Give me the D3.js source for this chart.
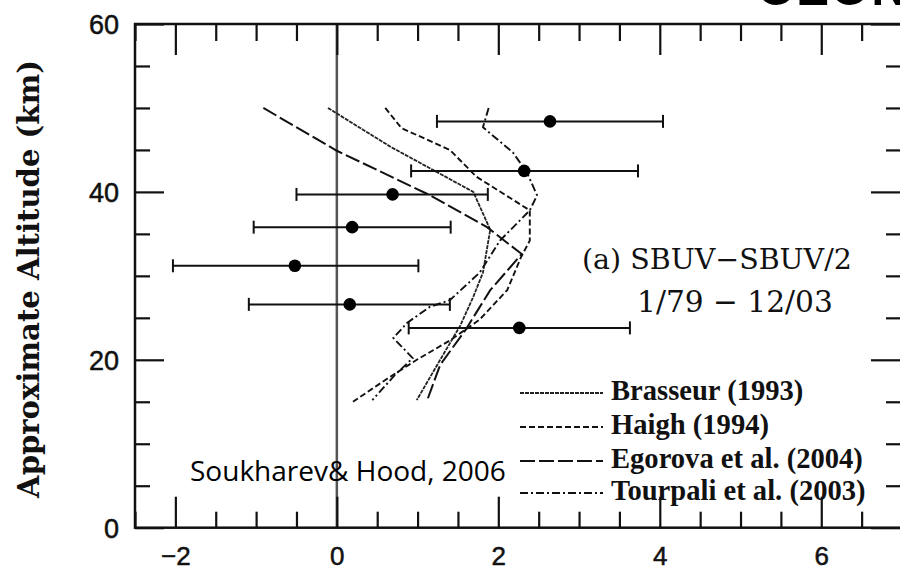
<!DOCTYPE html>
<html><head><meta charset="utf-8">
<script src="https://cdn.jsdelivr.net/npm/d3@7"></script>
<style>body{margin:0;background:#fff} svg{display:block}</style>
</head><body>
<svg id="c" width="900" height="570"></svg>
<script>
// ---------- data ----------
const xMajorTicks = [-2, 0, 2, 4, 6];
const yMajorTicks = [0, 20, 40, 60];
const xMinorTicks = d3.range(-2.5, 7.01, 0.5);
const yMinorTicks = d3.range(0, 60.01, 5);

const obsAlt = [48.4, 42.5, 39.7, 35.8, 31.2, 26.6, 23.8];
const obsVal = [2.64, 2.32, 0.69, 0.19, -0.52, 0.16, 2.26];
const obsLo  = [1.24, 0.92, -0.50, -1.03, -2.03, -1.09, 0.89];
const obsHi  = [4.04, 3.73, 1.87, 1.41, 1.01, 1.40, 3.63];

const brasseurAlt = [50.0, 45.4, 40.0, 35.5, 30.4, 27.5, 24.1, 20.0, 15.2];
const brasseurVal = [-0.11, 0.66, 1.69, 1.90, 1.81, 1.69, 1.53, 1.28, 0.99];

const haighAlt = [50.0, 47.6, 45.0, 41.8, 37.8, 34.2, 32.2, 28.3, 24.8, 22.3, 20.0, 17.6, 15.0];
const haighVal = [0.60, 0.80, 1.40, 1.73, 2.39, 2.39, 2.28, 2.11, 1.77, 1.40, 0.99, 0.60, 0.20];

const egorovaAlt = [50.0, 44.9, 39.6, 35.8, 32.6, 28.3, 23.5, 19.4, 15.2];
const egorovaVal = [-0.91, 0.00, 1.155, 1.86, 2.29, 1.90, 1.59, 1.28, 1.12];

const tourpaliAlt = [50.0, 47.7, 44.7, 42.4, 39.6, 37.8, 34.2, 30.4, 27.1, 26.3, 24.4, 22.6, 20.2, 18.2, 15.2];
const tourpaliVal = [1.88, 1.81, 2.18, 2.35, 2.48, 2.39, 2.02, 1.77, 1.40, 1.15, 0.87, 0.70, 0.94, 0.72, 0.44];

const legendLabels = ["Brasseur (1993)", "Haigh (1994)", "Egorova et al. (2004)", "Tourpali et al. (2003)"];

// ---------- layout ----------
const svg = d3.select("#c");
const L = 135, R = 902, T = 24, B = 527.7;
const x = d3.scaleLinear().domain([-2.5, 7]).range([L, R]);
const y = d3.scaleLinear().domain([0, 60]).range([B, T]);
const ink = "#111";

const models = [
  {alt: brasseurAlt, val: brasseurVal, dash: "4,1", w: 1.8, col: "#222"},
  {alt: haighAlt, val: haighVal, dash: "6,3", w: 1.9, col: "#111"},
  {alt: egorovaAlt, val: egorovaVal, dash: "15,4", w: 2, col: "#111"},
  {alt: tourpaliAlt, val: tourpaliVal, dash: "8,3,2,3", w: 1.9, col: "#111"}
];

// title fragment cut at top
svg.append("text").attr("x", 757).attr("y", 5)
  .attr("font-family", "Liberation Sans, Arial, sans-serif").attr("font-weight", "bold")
  .attr("font-size", 50).attr("letter-spacing", 2).attr("fill", "#000").text("OZONE");

// zero line
svg.append("line").attr("x1", x(0)).attr("x2", x(0)).attr("y1", T).attr("y2", B)
  .attr("stroke", "#555").attr("stroke-width", 2.5);

// axes (ticks)
const isMajorX = v => xMajorTicks.some(m => Math.abs(m - v) < 1e-6);
const isMajorY = v => yMajorTicks.some(m => Math.abs(m - v) < 1e-6);
const fmt = d => d < 0 ? "\u2212" + Math.abs(d) : String(d);

const gB = svg.append("g").attr("transform", `translate(0,${B})`)
  .call(d3.axisBottom(x).tickValues(xMinorTicks).tickSizeInner(0).tickSizeOuter(0).tickFormat(""));
gB.selectAll(".tick line").attr("y2", d => isMajorX(d) ? -31 : -16);
const gT = svg.append("g").attr("transform", `translate(0,${T})`)
  .call(d3.axisTop(x).tickValues(xMinorTicks).tickSizeInner(0).tickSizeOuter(0).tickFormat(""));
gT.selectAll(".tick line").attr("y2", d => isMajorX(d) ? 31 : 17);
const gL = svg.append("g").attr("transform", `translate(${L},0)`)
  .call(d3.axisLeft(y).tickValues(yMinorTicks).tickSizeInner(0).tickSizeOuter(0).tickFormat(""));
gL.selectAll(".tick line").attr("x2", d => isMajorY(d) ? 29 : 15);
const gR = svg.append("g").attr("transform", `translate(${R},0)`)
  .call(d3.axisRight(y).tickValues(yMinorTicks).tickSizeInner(0).tickSizeOuter(0).tickFormat(""));
gR.selectAll(".tick line").attr("x2", d => isMajorY(d) ? -31 : -16);
[gB, gT, gL, gR].forEach(g => {
  g.select(".domain").remove();
  g.selectAll(".tick line").attr("stroke", ink).attr("stroke-width", 2.2);
});
// frame
svg.append("rect").attr("x", L).attr("y", T).attr("width", R - L).attr("height", B - T)
  .attr("fill", "none").attr("stroke", ink).attr("stroke-width", 2.5);

// tick labels
const gxl = svg.append("g").attr("transform", `translate(0,${B})`)
  .call(d3.axisBottom(x).tickValues(xMajorTicks).tickSize(0).tickPadding(0).tickFormat(fmt));
gxl.select(".domain").remove();
gxl.selectAll("text").attr("y", 37.5).attr("dy", 0)
  .attr("font-family", "Liberation Sans, Arial, sans-serif").attr("font-size", 26).attr("fill", ink)
  .attr("stroke", ink).attr("stroke-width", 0.5);
const gyl = svg.append("g").attr("transform", `translate(${L},0)`)
  .call(d3.axisLeft(y).tickValues(yMajorTicks).tickSize(0).tickPadding(0).tickFormat(fmt));
gyl.select(".domain").remove();
gyl.selectAll("text").attr("x", -16).attr("dy", "0.36em")
  .attr("font-family", "Liberation Sans, Arial, sans-serif").attr("font-size", 27).attr("fill", ink)
  .attr("stroke", ink).attr("stroke-width", 0.5);

// fit helper
function fit(sel, w) {
  const n = sel.node(); const cur = n.getComputedTextLength();
  const fs = parseFloat(sel.attr("font-size"));
  sel.attr("font-size", fs * w / cur);
  return fs * w / cur;
}

// y title
const yt = svg.append("text").attr("transform", "translate(39,279) rotate(-90)")
  .attr("text-anchor", "middle").attr("font-family", "DejaVu Serif, serif").attr("font-weight", "bold")
  .attr("font-size", 26).attr("fill", ink).text("Approximate Altitude (km)");
fit(yt, 438);

// model curves
const line = d3.line().x(d => x(d[0])).y(d => y(d[1]));
models.forEach(m => {
  svg.append("path").datum(m.val.map((v, i) => [v, m.alt[i]]))
    .attr("d", line).attr("fill", "none").attr("stroke", m.col)
    .attr("stroke-width", m.w).attr("stroke-dasharray", m.dash);
});

// observations with error bars
const gO = svg.append("g");
obsAlt.forEach((a, i) => {
  gO.append("line").attr("x1", x(obsLo[i])).attr("x2", x(obsHi[i])).attr("y1", y(a)).attr("y2", y(a))
    .attr("stroke", ink).attr("stroke-width", 2);
  [obsLo[i], obsHi[i]].forEach(e => gO.append("line").attr("x1", x(e)).attr("x2", x(e))
    .attr("y1", y(a) - 6.5).attr("y2", y(a) + 6.5).attr("stroke", ink).attr("stroke-width", 2));
  gO.append("circle").attr("cx", x(obsVal[i])).attr("cy", y(a)).attr("r", 6.3).attr("fill", "#000");
});

// annotation
const a1 = svg.append("text").attr("x", 582).attr("y", 269).attr("font-family", "DejaVu Serif, serif")
  .attr("font-size", 26).attr("fill", ink).text("(a) SBUV\u2212SBUV/2");
fit(a1, 270);
const a2 = svg.append("text").attr("x", 637).attr("y", 312).attr("font-family", "DejaVu Serif, serif")
  .attr("font-size", 26).attr("fill", ink).text("1/79 \u2212 12/03");
fit(a2, 196);

// legend
const legY = [393, 427, 461, 493];
let legFs = 20;
legendLabels.forEach((lab, i) => {
  const m = models[i];
  svg.append("line").attr("x1", 520).attr("x2", 603).attr("y1", legY[i]).attr("y2", legY[i])
    .attr("stroke", m.col).attr("stroke-width", m.w).attr("stroke-dasharray", m.dash);
  const t = svg.append("text").attr("x", 611).attr("y", legY[i] + 7)
    .attr("font-family", "Liberation Serif, serif").attr("font-weight", "bold")
    .attr("font-size", legFs).attr("fill", ink).text(lab);
  if (i === 2) legFs = fit(t, 252);
});
svg.selectAll("text").filter(function() { return legendLabels.includes(this.textContent); })
  .attr("font-size", legFs);

// source note
const s = svg.append("text").attr("x", 190).attr("y", 481).attr("font-family", "Open Sans, sans-serif")
  .attr("font-size", 25).attr("fill", "#000").text("Soukharev& Hood, 2006");
fit(s, 316);
</script>
</body></html>
